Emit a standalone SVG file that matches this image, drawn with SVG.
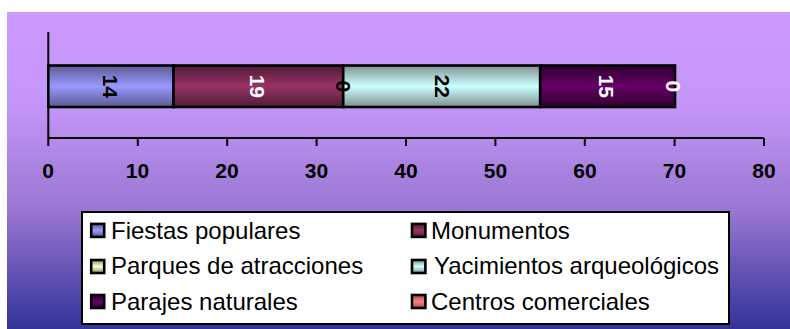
<svg xmlns="http://www.w3.org/2000/svg" width="790" height="329" viewBox="0 0 790 329">
<style>
text{font-family:"Liberation Sans",Arial,sans-serif}
.ax{font-size:21px;font-weight:bold;text-anchor:middle;fill:#000}
.dl{font-size:21px;font-weight:bold;text-anchor:middle;dominant-baseline:central}
.lg{font-size:24px;fill:#000}
.ln{stroke:#000;stroke-width:2;fill:none}
.bar{stroke:#000;stroke-width:2.6}
.sw{stroke:#000;stroke-width:2.6}
</style>
<defs>
<linearGradient id="bg" x1="0" y1="0" x2="0" y2="1"><stop offset="0" stop-color="#CC99FF"/><stop offset=".28" stop-color="#C596F9"/><stop offset=".62" stop-color="#9A77D2"/><stop offset="1" stop-color="#333399"/></linearGradient>
<linearGradient id="g1" x1="0" y1="0" x2="0" y2="1"><stop offset="0" stop-color="#5A5A90"/><stop offset=".5" stop-color="#9999FF"/><stop offset="1" stop-color="#5A5A90"/></linearGradient>
<linearGradient id="g2" x1="0" y1="0" x2="0" y2="1"><stop offset="0" stop-color="#4F1C36"/><stop offset=".5" stop-color="#993366"/><stop offset="1" stop-color="#4F1C36"/></linearGradient>
<linearGradient id="g3" x1="0" y1="0" x2="0" y2="1"><stop offset="0" stop-color="#809090"/><stop offset=".5" stop-color="#CCFFFF"/><stop offset="1" stop-color="#809090"/></linearGradient>
<linearGradient id="g4" x1="0" y1="0" x2="0" y2="1"><stop offset="0" stop-color="#2E002E"/><stop offset=".5" stop-color="#660066"/><stop offset="1" stop-color="#2E002E"/></linearGradient>
<linearGradient id="g5" x1="0" y1="0" x2="0" y2="1"><stop offset="0" stop-color="#909070"/><stop offset=".5" stop-color="#FFFFCC"/><stop offset="1" stop-color="#909070"/></linearGradient>
<linearGradient id="g6" x1="0" y1="0" x2="0" y2="1"><stop offset="0" stop-color="#A05050"/><stop offset=".5" stop-color="#FF8080"/><stop offset="1" stop-color="#A05050"/></linearGradient>
</defs>
<rect id="background" x="7" y="12" width="783" height="317" fill="url(#bg)"/>
<g id="connectors">
<path class="ln" d="M48.3 32V146M48.3 138H764M137.8 138V146M227.2 138V146M316.6 138V146M406 138V146M495.4 138V146M584.8 138V146M674.6 138V146M764 138V146"/>
</g>
<g id="axis-labels">
<text class="ax" x="48" y="178">0</text><text class="ax" x="137.5" y="178">10</text><text class="ax" x="227" y="178">20</text><text class="ax" x="316.5" y="178">30</text><text class="ax" x="406" y="178">40</text><text class="ax" x="495.5" y="178">50</text><text class="ax" x="585" y="178">60</text><text class="ax" x="674.5" y="178">70</text><text class="ax" x="764" y="178">80</text>
</g>
<g id="bar-fiestas"><rect class="bar" x="48.3" y="65.5" width="125.2" height="41.5" fill="url(#g1)"/><text class="dl" transform="translate(110 86.3) rotate(90)" fill="#000">14</text></g>
<g id="bar-monumentos"><rect class="bar" x="173.5" y="65.5" width="169.7" height="41.5" fill="url(#g2)"/><text class="dl" transform="translate(257.5 86.3) rotate(90)" fill="#fff">19</text></g>
<g id="bar-yacimientos"><rect class="bar" x="343.2" y="65.5" width="197" height="41.5" fill="url(#g3)"/><text class="dl" transform="translate(442 86.3) rotate(90)" fill="#000">22</text></g>
<g id="bar-parajes"><rect class="bar" x="540.2" y="65.5" width="134.8" height="41.5" fill="url(#g4)"/><text class="dl" transform="translate(606.5 86.3) rotate(90)" fill="#fff">15</text></g>
<g id="label-parques"><text class="dl" transform="translate(343 86.3) rotate(90)" fill="#000">0</text></g>
<g id="label-centros"><text class="dl" transform="translate(673.5 86.3) rotate(90)" fill="#fff">0</text></g>
<g id="legend"><rect x="82" y="212" width="647" height="112" fill="#fff" stroke="#000" stroke-width="2"/></g>
<g id="legend-fiestas"><rect class="sw" x="91.2" y="223.9" width="13" height="13" fill="url(#g1)"/><text class="lg" x="111" y="238.5">Fiestas populares</text></g>
<g id="legend-monumentos"><rect class="sw" x="412" y="223.9" width="13.4" height="13" fill="url(#g2)"/><text class="lg" x="431" y="238.5">Monumentos</text></g>
<g id="legend-parques"><rect class="sw" x="91.2" y="260" width="13" height="13" fill="url(#g5)"/><text class="lg" x="111" y="274">Parques de atracciones</text></g>
<g id="legend-yacimientos"><rect class="sw" x="412" y="260" width="13.4" height="13" fill="url(#g3)"/><text class="lg" x="434" y="274">Yacimientos arqueológicos</text></g>
<g id="legend-parajes"><rect class="sw" x="91.2" y="295" width="13" height="13" fill="url(#g4)"/><text class="lg" x="111" y="309.5">Parajes naturales</text></g>
<g id="legend-centros"><rect class="sw" x="412" y="295" width="13.4" height="13" fill="url(#g6)"/><text class="lg" x="431" y="309.5">Centros comerciales</text></g>
</svg>
